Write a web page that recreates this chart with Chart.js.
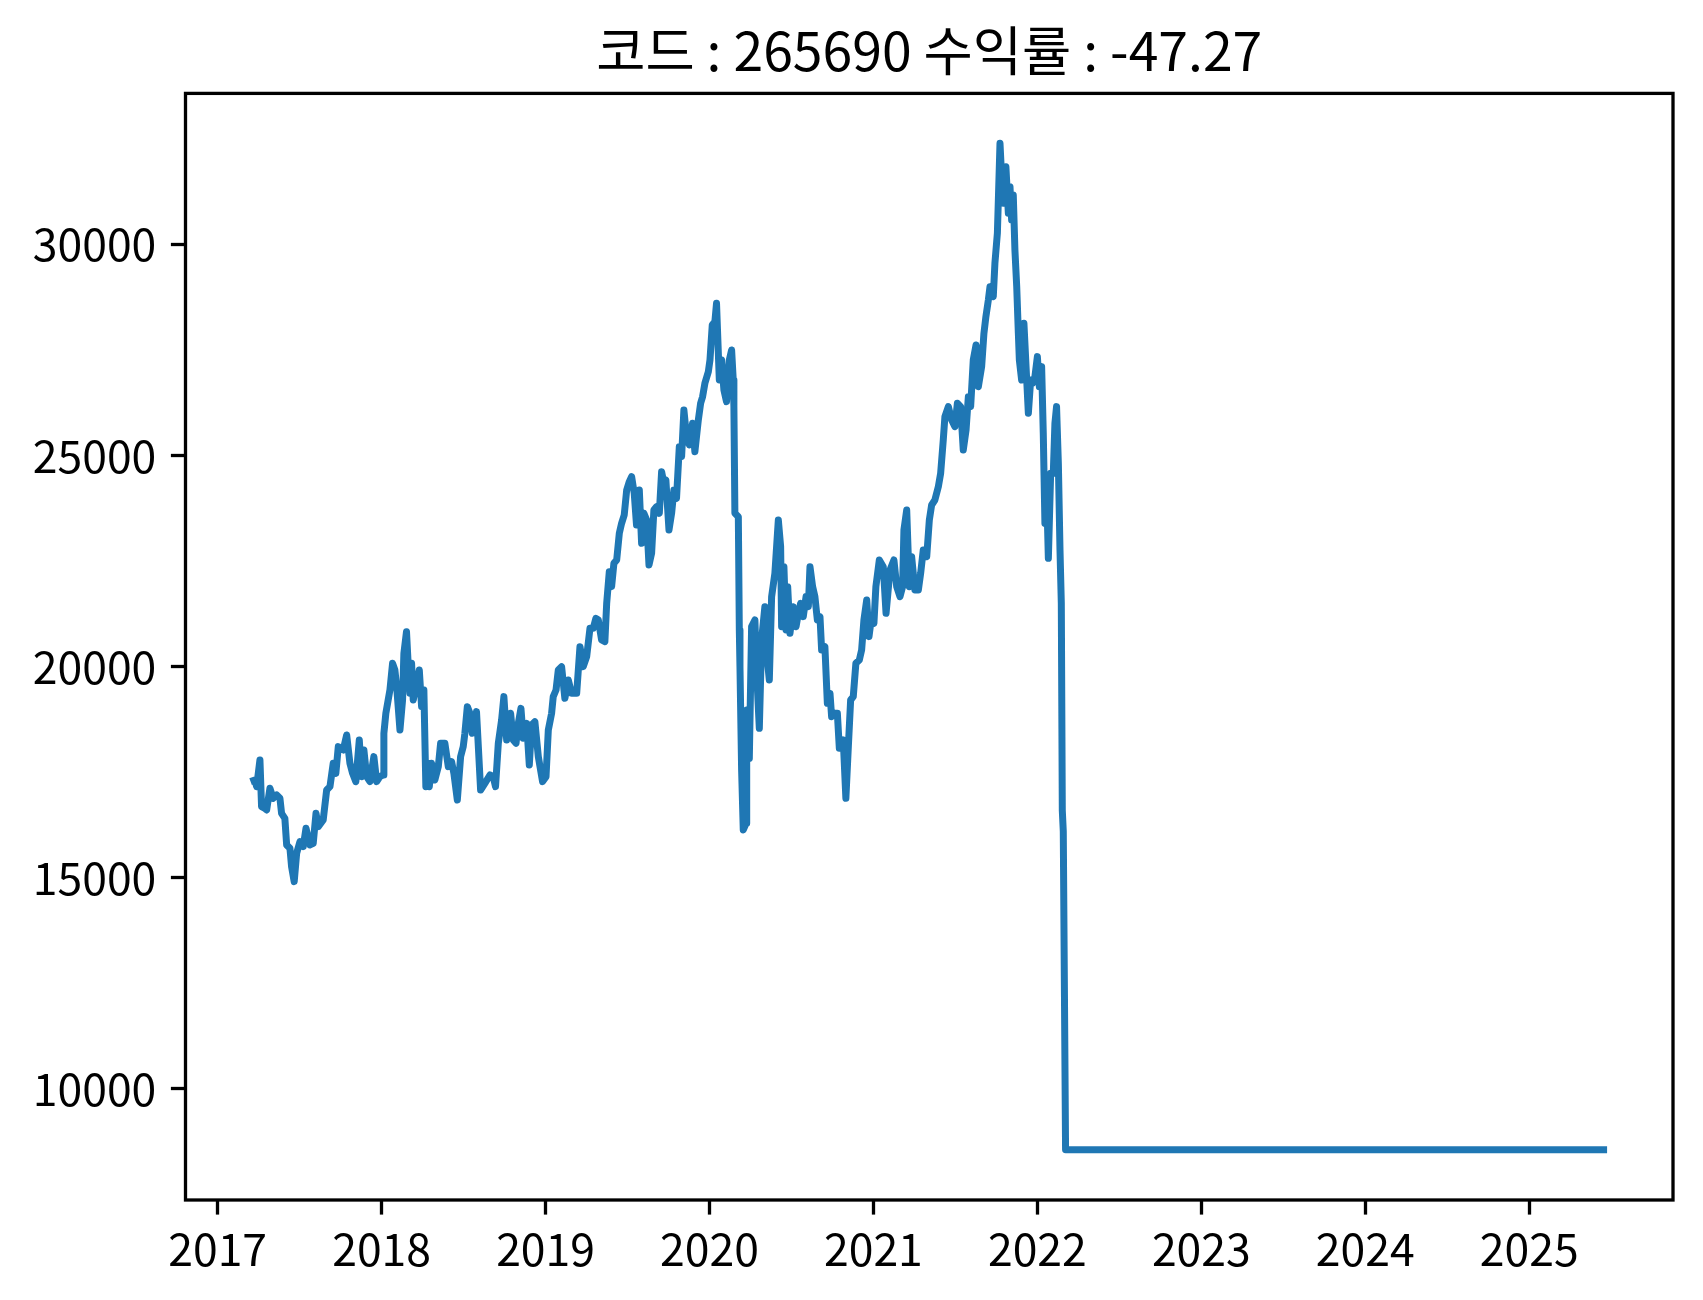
<!DOCTYPE html>
<html>
<head>
<meta charset="utf-8">
<script src="https://cdn.jsdelivr.net/npm/chart.js@4.4.1/dist/chart.umd.min.js"></script>
<style>
  html, body { margin: 0; padding: 0; background: #ffffff; }
  canvas { display: block; }
</style>
</head>
<body>
<canvas id="c" width="1703" height="1300"></canvas>
<script>
// ---- data ----
const chartTitle = '코드 : 265690 수익률 : -47.27';

// dates as decimal years
const years = [
  2017.201, 2017.227, 2017.238, 2017.258, 2017.268, 2017.288, 2017.299, 2017.319, 2017.339, 2017.360,
  2017.380, 2017.390, 2017.410, 2017.421, 2017.441, 2017.451, 2017.467, 2017.482, 2017.502, 2017.522,
  2017.539, 2017.563, 2017.583, 2017.600, 2017.614, 2017.644, 2017.665, 2017.685, 2017.695, 2017.705,
  2017.721, 2017.736, 2017.766, 2017.787, 2017.807, 2017.823, 2017.843, 2017.864, 2017.878, 2017.892,
  2017.909, 2017.929, 2017.953, 2017.970, 2017.990, 2018.010, 2018.014, 2018.026, 2018.051, 2018.067,
  2018.081, 2018.092, 2018.112, 2018.128, 2018.136, 2018.152, 2018.163, 2018.173, 2018.183, 2018.193,
  2018.213, 2018.230, 2018.244, 2018.258, 2018.270, 2018.285, 2018.291, 2018.305, 2018.325, 2018.346,
  2018.360, 2018.386, 2018.407, 2018.427, 2018.441, 2018.462, 2018.482, 2018.498, 2018.508, 2018.523,
  2018.539, 2018.553, 2018.579, 2018.604, 2018.630, 2018.661, 2018.681, 2018.695, 2018.712, 2018.732,
  2018.746, 2018.763, 2018.787, 2018.803, 2018.820, 2018.834, 2018.850, 2018.864, 2018.885, 2018.901,
  2018.915, 2018.935, 2018.956, 2018.982, 2019.003, 2019.017, 2019.037, 2019.047, 2019.064, 2019.078,
  2019.098, 2019.118, 2019.139, 2019.159, 2019.190, 2019.210, 2019.230, 2019.251, 2019.271, 2019.291,
  2019.307, 2019.322, 2019.342, 2019.362, 2019.373, 2019.389, 2019.403, 2019.417, 2019.434, 2019.450,
  2019.464, 2019.480, 2019.495, 2019.511, 2019.525, 2019.541, 2019.555, 2019.572, 2019.586, 2019.600,
  2019.617, 2019.631, 2019.647, 2019.661, 2019.677, 2019.694, 2019.708, 2019.722, 2019.734, 2019.753,
  2019.769, 2019.783, 2019.799, 2019.816, 2019.830, 2019.844, 2019.860, 2019.877, 2019.897, 2019.911,
  2019.932, 2019.946, 2019.958, 2019.972, 2019.993, 2020.003, 2020.017, 2020.033, 2020.043, 2020.060,
  2020.074, 2020.088, 2020.104, 2020.121, 2020.135, 2020.145, 2020.149, 2020.155, 2020.176, 2020.182,
  2020.186, 2020.196, 2020.206, 2020.223, 2020.227, 2020.243, 2020.257, 2020.277, 2020.288, 2020.304,
  2020.318, 2020.338, 2020.349, 2020.365, 2020.379, 2020.399, 2020.420, 2020.434, 2020.440, 2020.454,
  2020.467, 2020.477, 2020.491, 2020.511, 2020.528, 2020.542, 2020.556, 2020.572, 2020.589, 2020.603,
  2020.613, 2020.629, 2020.643, 2020.658, 2020.674, 2020.684, 2020.704, 2020.719, 2020.735, 2020.745,
  2020.765, 2020.780, 2020.792, 2020.816, 2020.832, 2020.847, 2020.861, 2020.877, 2020.893, 2020.914,
  2020.928, 2020.942, 2020.959, 2020.973, 2020.989, 2021.003, 2021.015, 2021.036, 2021.060, 2021.077,
  2021.101, 2021.125, 2021.142, 2021.162, 2021.178, 2021.186, 2021.203, 2021.219, 2021.233, 2021.253,
  2021.274, 2021.288, 2021.304, 2021.325, 2021.341, 2021.355, 2021.375, 2021.396, 2021.410, 2021.426,
  2021.436, 2021.457, 2021.477, 2021.497, 2021.512, 2021.532, 2021.548, 2021.565, 2021.579, 2021.593,
  2021.609, 2021.626, 2021.640, 2021.660, 2021.674, 2021.686, 2021.701, 2021.711, 2021.731, 2021.741,
  2021.756, 2021.762, 2021.772, 2021.782, 2021.792, 2021.808, 2021.823, 2021.833, 2021.843, 2021.853,
  2021.863, 2021.874, 2021.884, 2021.890, 2021.904, 2021.918, 2021.930, 2021.945, 2021.959, 2021.971,
  2021.985, 2022.000, 2022.012, 2022.026, 2022.036, 2022.046, 2022.057, 2022.067, 2022.081, 2022.097,
  2022.107, 2022.117, 2022.128, 2022.138, 2022.146, 2022.152, 2022.158, 2022.172, 2025.475
];

const prices = [
  17279, 17318, 17160, 17792, 16687, 16647, 16608, 17121, 16884, 16963,
  16884, 16529, 16410, 15779, 15700, 15266, 14911, 15582, 15858, 15739,
  16174, 15779, 15818, 16529, 16213, 16371, 17081, 17160, 17437, 17713,
  17476, 18108, 18029, 18384, 17713, 17476, 17279, 18266, 17397, 18029,
  17397, 17279, 17871, 17279, 17397, 17437, 18423, 18897, 19450, 20081,
  19923, 19529, 18502, 19213, 20318, 20831, 20002, 19371, 20081, 19213,
  19608, 19923, 19055, 19450, 17160, 17713, 17160, 17713, 17318, 17634,
  18187, 18187, 17634, 17752, 17476, 16845, 17871, 18108, 18423, 19055,
  18897, 18423, 18936, 17081, 17239, 17437, 17397, 17160, 18186, 18739,
  19292, 18265, 18897, 18265, 18186, 18660, 19015, 18305, 18660, 17673,
  18620, 18699, 17871, 17279, 17397, 18502, 18897, 19292, 19449, 19923,
  20002, 19252, 19686, 19370, 19370, 20476, 20002, 20239, 20910, 20910,
  21147, 21107, 20634, 20594, 21502, 22252, 21897, 22449, 22528, 23160,
  23396, 23594, 24186, 24383, 24502, 24107, 23357, 24186, 22923, 23633,
  23475, 22410, 22686, 23712, 23791, 23633, 24620, 24344, 24423, 23238,
  23633, 24186, 23989, 25212, 24975, 26080, 25449, 25252, 25765, 25094,
  25844, 26238, 26396, 26712, 26988, 27265, 28093, 28172, 28606, 26791,
  27265, 26554, 26278, 27265, 27501, 26791, 26160, 23633, 23554, 20871,
  20002, 17555, 16134, 16292, 18976, 17831, 20949, 21107, 19844, 18542,
  20634, 21423, 20318, 19686, 21660, 22213, 23476, 22844, 20949, 22370,
  20871, 21897, 20791, 21423, 20949, 21265, 21502, 21186, 21660, 21423,
  22370, 21897, 21660, 21107, 21186, 20397, 20476, 19134, 19371, 18818,
  18897, 18897, 18068, 18265, 16884, 18108, 19213, 19292, 20081, 20160,
  20397, 21107, 21581, 20713, 21186, 21028, 21897, 22528, 22370, 21265,
  22292, 22528, 21897, 21660, 21897, 23239, 23712, 21897, 22607, 21818,
  21818, 22213, 22765, 22607, 23476, 23831, 23949, 24265, 24581, 25370,
  25923, 26160, 25844, 25686, 26238, 26160, 25133, 25607, 26396, 26160,
  27265, 27620, 26633, 27107, 27896, 28291, 28686, 29001, 28765, 29554,
  30264, 31054, 32396, 31606, 30975, 31843, 30738, 31370, 30580, 31172,
  29870, 29001, 27896, 27265, 26791, 28133, 27186, 26002, 26791, 26712,
  26870, 27344, 26633, 27107, 25528, 23396, 24107, 22567, 24581, 24581,
  25765, 26160, 24818, 22765, 21500, 16600, 16100, 8560, 8560
];

const xTicks = [2017, 2018, 2019, 2020, 2021, 2022, 2023, 2024, 2025];
const yTicks = [10000, 15000, 20000, 25000, 30000];

// axis limits
const xLimits = [2016.804, 2025.877];
const yLimits = [7371, 33578];

// ---- chart ----
const FONT = "'Noto Sans CJK KR', 'Noto Sans', sans-serif";

const framePlugin = {
  id: 'frame',
  afterDatasetsDraw(chart) {
    const a = chart.chartArea;
    const ctx = chart.ctx;
    ctx.save();
    ctx.strokeStyle = '#000000';
    ctx.lineWidth = 3.3;
    ctx.strokeRect(a.left, a.top, a.right - a.left, a.bottom - a.top);
    ctx.restore();
  }
};

function build() {
  const points = years.map((x, i) => ({ x: x, y: prices[i] }));
  new Chart(document.getElementById('c'), {
    type: 'line',
    data: {
      datasets: [{
        data: points,
        borderColor: '#1f77b4',
        backgroundColor: '#1f77b4',
        borderWidth: 7,
        borderJoinStyle: 'round',
        borderCapStyle: 'butt',
        pointRadius: 0,
        pointHoverRadius: 0,
        tension: 0,
        fill: false
      }]
    },
    options: {
      responsive: false,
      devicePixelRatio: 1,
      animation: false,
      events: [],
      layout: { padding: { left: 0, right: 30, top: 0, bottom: 0 } },
      plugins: {
        legend: { display: false },
        tooltip: { enabled: false },
        title: {
          display: true,
          text: chartTitle,
          fullSize: false,
          color: '#000000',
          font: { family: FONT, size: 53.5, weight: 'normal', lineHeight: 1.2 },
          padding: { top: 19, bottom: 10.2 }
        }
      },
      scales: {
        x: {
          type: 'linear',
          position: 'bottom',
          min: xLimits[0],
          max: xLimits[1],
          afterBuildTicks: (s) => { s.ticks = xTicks.map(v => ({ value: v })); },
          afterFit: (s) => { s.height = 100; },
          border: { display: false },
          grid: {
            display: true,
            drawOnChartArea: false,
            drawTicks: true,
            tickLength: 14.6,
            tickWidth: 3.3,
            tickColor: '#000000'
          },
          ticks: {
            color: '#000000',
            font: { family: FONT, size: 44.5 },
            padding: 8,
            autoSkip: false,
            maxRotation: 0,
            minRotation: 0,
            callback: (v) => String(v)
          }
        },
        y: {
          type: 'linear',
          position: 'left',
          min: yLimits[0],
          max: yLimits[1],
          afterBuildTicks: (s) => { s.ticks = yTicks.map(v => ({ value: v })); },
          afterFit: (s) => { s.width = 185.5; },
          border: { display: false },
          grid: {
            display: true,
            drawOnChartArea: false,
            drawTicks: true,
            tickLength: 14.6,
            tickWidth: 3.3,
            tickColor: '#000000'
          },
          ticks: {
            color: '#000000',
            font: { family: FONT, size: 44.5 },
            padding: 14.6,
            autoSkip: false,
            callback: (v) => String(v)
          }
        }
      }
    },
    plugins: [framePlugin]
  });
}

if (document.fonts && document.fonts.load) {
  Promise.all([
    document.fonts.load("53px 'Noto Sans CJK KR'", '코드수익률'),
    document.fonts.load("44px 'Noto Sans CJK KR'", '0123456789')
  ]).then(build, build);
} else {
  build();
}
</script>
</body>
</html>
